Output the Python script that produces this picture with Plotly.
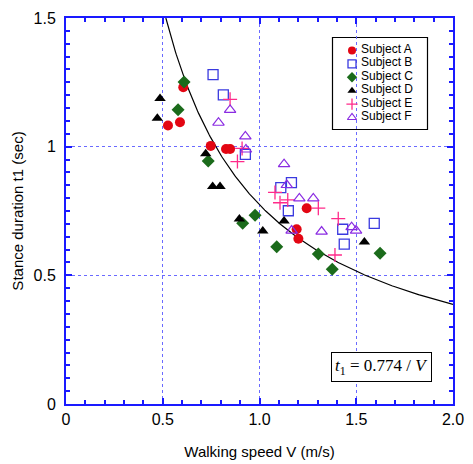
import numpy as np
import plotly.graph_objects as go

# Data
a_x = [0.606, 0.527, 0.589, 0.748, 0.827, 0.848, 1.244, 1.192, 1.201]
a_y = [1.231, 1.082, 1.095, 1.003, 0.991, 0.991, 0.761, 0.679, 0.642]

b_x = [0.760, 0.813, 0.927, 1.110, 1.165, 1.149, 1.430, 1.438, 1.593]
b_y = [1.280, 1.201, 0.970, 0.841, 0.860, 0.751, 0.679, 0.621, 0.702]

c_x = [0.610, 0.579, 0.735, 0.977, 0.913, 1.089, 1.304, 1.376, 1.623]
c_y = [1.251, 1.143, 0.944, 0.733, 0.702, 0.611, 0.583, 0.524, 0.586]

d_x = [0.486, 0.472, 0.722, 0.758, 0.796, 0.896, 1.017, 1.127, 1.542]
d_y = [1.187, 1.110, 0.972, 0.845, 0.845, 0.719, 0.672, 0.711, 0.630]

e_x = [0.848, 0.910, 0.886, 1.080, 1.106, 1.146, 1.304, 1.407, 1.390]
e_y = [1.184, 0.993, 0.942, 0.822, 0.782, 0.793, 0.761, 0.720, 0.579]

f_x = [0.848, 0.788, 0.927, 0.930, 1.127, 1.141, 1.206, 1.278, 1.166, 1.321, 1.476, 1.499]
f_y = [1.143, 1.093, 1.040, 0.989, 0.932, 0.851, 0.799, 0.799, 0.674, 0.670, 0.687, 0.674]

subject_names = ["Subject A", "Subject B", "Subject C", "Subject D", "Subject E", "Subject F"]

coef = 0.774
x_ticks = [0, 0.5, 1.0, 1.5, 2.0]
x_tick_labels = ["0", "0.5", "1.0", "1.5", "2.0"]
y_ticks = [0, 0.5, 1.0, 1.5]
y_tick_labels = ["0", "0.5", "1", "1.5"]

W, H = 473, 464
ML, MR, MT, MB = 66, 20, 18, 60

fig = go.Figure()

curve_x = np.linspace(coef / 1.5, 2.0, 300)
fig.add_trace(go.Scatter(x=curve_x, y=coef / curve_x, mode="lines",
                         line=dict(color="black", width=1.2), showlegend=False,
                         hoverinfo="skip"))

styles = [
    dict(symbol="circle", color="#e30613"),
    dict(symbol="square-open", color="#3a3adf", line=dict(width=1.3, color="#3a3adf")),
    dict(symbol="diamond", color="#1b6b1b"),
    dict(symbol="triangle-up", color="black"),
    dict(symbol="cross-thin-open", color="#ff2a8a", line=dict(width=1.3, color="#ff2a8a")),
    dict(symbol="triangle-up-open", color="#8a2be2", line=dict(width=1.2, color="#8a2be2")),
]
data = [(a_x, a_y), (b_x, b_y), (c_x, c_y), (d_x, d_y), (e_x, e_y), (f_x, f_y)]
for name, (xs, ys), st in zip(subject_names, data, styles):
    fig.add_trace(go.Scatter(x=xs, y=ys, mode="markers", name=name,
                             marker=dict(size=10, **st), showlegend=False))

# Manual legend (pixel coordinate overlay axes)
leg_left, leg_top, leg_right, leg_bottom = 332.5, 37.5, 427.5, 129.5
row0, row_step = 50.5, 13.4
mk_x, txt_x = 352, 359
for i, (name, st) in enumerate(zip(subject_names, styles)):
    yy = row0 + i * row_step
    fig.add_trace(go.Scatter(x=[mk_x], y=[yy], mode="markers", xaxis="x2", yaxis="y2",
                             marker=dict(size=8, **st), showlegend=False, hoverinfo="skip"))
    fig.add_annotation(xref="x2", yref="y2", x=txt_x, y=yy - 1.5, text=name, showarrow=False,
                       xanchor="left", yanchor="middle",
                       font=dict(family="Liberation Sans, Arial", size=12, color="black"))
fig.add_shape(type="rect", xref="x2", yref="y2", x0=leg_left, x1=leg_right,
              y0=leg_top, y1=leg_bottom, line=dict(color="black", width=1.2),
              fillcolor="white", layer="below")

axis_common = dict(
    showline=True, linecolor="#1a1aff", linewidth=2, mirror="allticks",
    ticks="inside", ticklen=6, tickcolor="#1a1aff", tickwidth=1.5,
    showgrid=True, gridcolor="#6a6aff", gridwidth=1, griddash="dot",
    zeroline=False, automargin=False,
    tickfont=dict(family="Liberation Sans, Arial", size=16, color="black"),
)

fig.update_layout(
    xaxis=dict(range=[0, 2.0], tickvals=x_ticks, ticktext=x_tick_labels,
               minor=dict(dtick=0.1, ticks="inside", ticklen=4, tickcolor="#1a1aff",
                          showgrid=False),
               title=dict(text="Walking speed V (m/s)", standoff=19,
                          font=dict(family="Liberation Sans, Arial", size=15, color="black")),
               **axis_common),
    yaxis=dict(range=[0, 1.5], tickvals=y_ticks, ticktext=y_tick_labels,
               ticklabelstandoff=5,
               minor=dict(dtick=0.05, ticks="inside", ticklen=4, tickcolor="#1a1aff",
                          showgrid=False),
               title=dict(text="Stance duration t1 (sec)", standoff=6,
                          font=dict(family="Liberation Sans, Arial", size=15, color="black")),
               **axis_common),
    xaxis2=dict(range=[ML, W - MR], overlaying="x", visible=False, fixedrange=True),
    yaxis2=dict(range=[H - MB, MT], overlaying="y", visible=False, fixedrange=True),
)

fig.add_annotation(xref="paper", yref="paper", x=(432 - ML) / (W - ML - MR),
                   y=(H - MB - 367) / (H - MB - MT), xanchor="right", yanchor="middle",
                   text="<i>t</i><sub>1</sub> = 0.774 / <i>V</i>", showarrow=False,
                   font=dict(family="Liberation Serif, Times New Roman", size=17, color="black"),
                   bordercolor="black", borderwidth=1, borderpad=3, bgcolor="white")

fig.update_layout(
    width=W, height=H,
    margin=dict(l=ML, r=MR, t=MT, b=MB),
    plot_bgcolor="white", paper_bgcolor="white",
    showlegend=False,
)

fig.write_html("out.html")
